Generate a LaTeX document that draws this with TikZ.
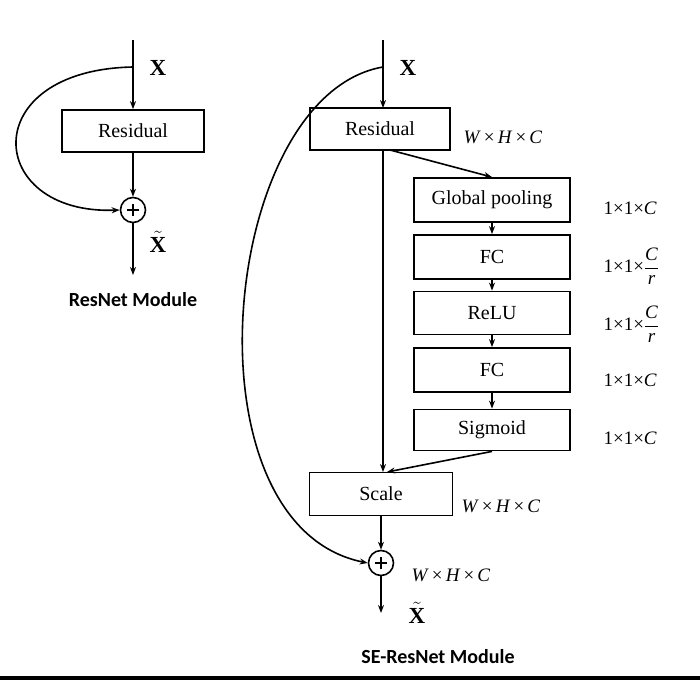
\documentclass[tikz,border=0pt]{standalone}
\usepackage{fontspec}
\setmainfont{Liberation Serif}
\newfontfamily\capfont{Carlito}
\usetikzlibrary{arrows.meta}
\begin{document}
\begin{tikzpicture}[x=1pt,y=-1pt,
  box/.style={draw,line width=1.8pt,minimum height=42pt,font=\fontsize{20}{22}\selectfont,inner sep=0},
  ln/.style={line width=1.6pt},
  ar/.style={ln,-{Stealth[length=8pt,width=6pt]}},
  add/.style={draw,circle,line width=1.6pt,minimum size=25pt,inner sep=0},
  dim/.style={font=\fontsize{19}{21}\selectfont,anchor=west},
  bx/.style={font=\bfseries\fontsize{23}{25}\selectfont},
  modcap/.style={font=\capfont\bfseries\fontsize{20}{22}\selectfont}]
\useasboundingbox (0,0) rectangle (700,680);
\fill (0,676) rectangle (700,680);
% left
\coordinate (ls) at (133,40);
\coordinate (lb) at (133,67);
\node[box,minimum width=142pt] (lr) at (133,131) {Residual};
\node[add] (lp) at (133,210) {};
\draw[ln] (lp.center)++(-6,0) -- ++(12,0) (lp.center)++(0,-6) -- ++(0,12);
\coordinate (le) at (133,275);
\draw[ar] (ls) -- (lr.north);
\draw[ar] (lr.south) -- (lp.north);
\draw[ar] (lp.south) -- (le);
\draw[ar] (lb) .. controls (-25,70) and (-15,215) .. (lp.west);
\node[bx] (lx) at (158,68) {X};
\node[bx] (lxt) at (158,242) {$\tilde{\mathbf{X}}$};
\node[modcap] (lc) at (133,300) {ResNet Module};
% right
\coordinate (rs) at (383,40);
\coordinate (rb) at (383,67);
\node[box,minimum width=140pt] (rr) at (380,129) {Residual};
\node[box,minimum width=156pt,minimum height=44pt] (gp) at (492,200) {Global pooling};
\node[box,minimum width=156pt,minimum height=44pt] (fc1) at (492,257) {FC};
\node[box,minimum width=156pt,minimum height=43pt] (relu) at (492,313) {ReLU};
\node[box,minimum width=156pt,minimum height=44pt] (fc2) at (492,370) {FC};
\node[box,minimum width=156pt,minimum height=41pt] (sig) at (492,430) {Sigmoid};
\node[box,minimum width=143pt,minimum height=43pt] (sc) at (381,494) {Scale};
\node[add] (rp) at (381,563) {};
\draw[ln] (rp.center)++(-6,0) -- ++(12,0) (rp.center)++(0,-6) -- ++(0,12);
\coordinate (re) at (381,613);
\draw[ar] (rs) -- (383,108);
\draw[ar] (383,150) -- (383,472);
\draw[ar] (390,150) -- (gp.north);
\draw[ar] (gp) -- (fc1);
\draw[ar] (fc1) -- (relu);
\draw[ar] (relu) -- (fc2);
\draw[ar] (fc2) -- (sig);
\draw[ar] (sig.south) -- (387,472);
\draw[ar] (sc.south) -- (rp.north);
\draw[ar] (rp.south) -- (re);
\draw[ar] (rb) .. controls (220,95) and (180,525) .. (rp.west);
\node[bx] (rx) at (408,68) {X};
\node[bx] (rxt) at (417,613) {$\tilde{\mathbf{X}}$};
\node[modcap] (rc) at (438,657) {SE-ResNet Module};
\node[dim] (d0) at (460,137) {\textit{W}\,×\,\textit{H}\,×\,\textit{C}};
\node[dim] (d1) at (600,208) {1×1×\textit{C}};
\node[dim] (d2) at (600,266) {1×1×$\displaystyle\frac{\textit{C}}{\textit{r}}$};
\node[dim] (d3) at (600,324) {1×1×$\displaystyle\frac{\textit{C}}{\textit{r}}$};
\node[dim] (d4) at (600,380) {1×1×\textit{C}};
\node[dim] (d5) at (600,438) {1×1×\textit{C}};
\node[dim] (d6) at (458,506) {\textit{W}\,×\,\textit{H}\,×\,\textit{C}};
\node[dim] (d7) at (408,575) {\textit{W}\,×\,\textit{H}\,×\,\textit{C}};
\end{tikzpicture}
\end{document}
